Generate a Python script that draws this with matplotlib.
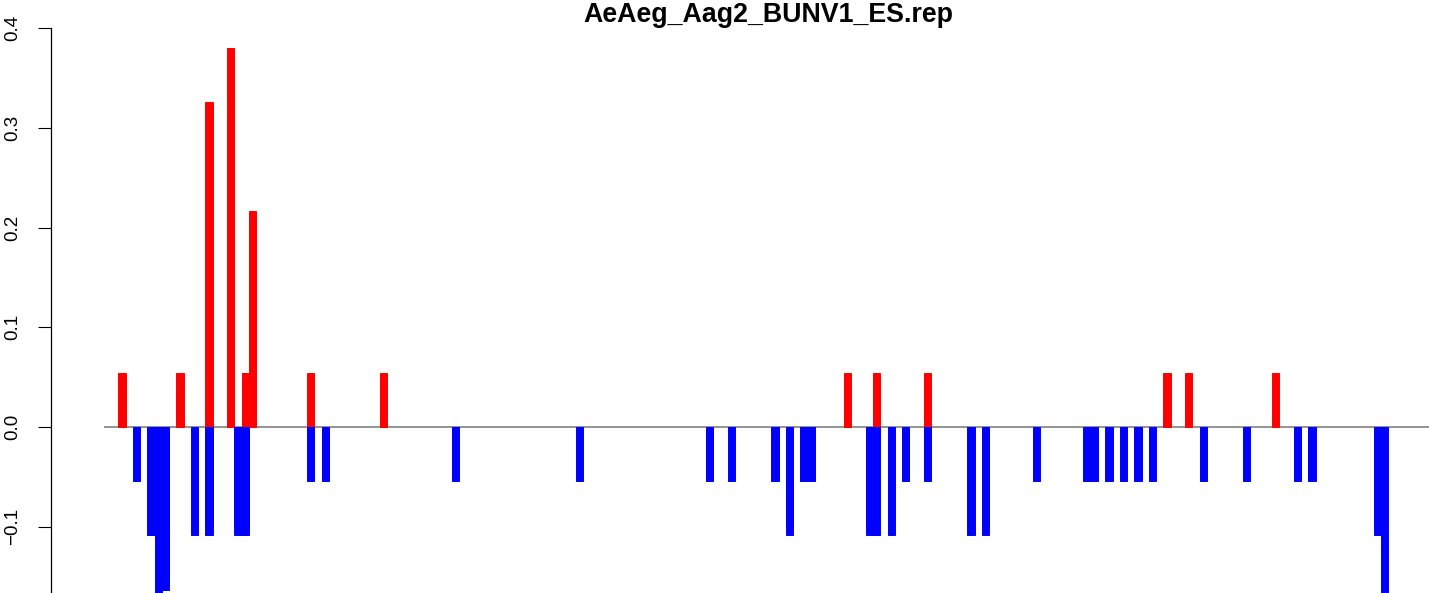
import matplotlib
matplotlib.use("Agg")
import matplotlib.pyplot as plt

plt.rcParams['font.family'] = ['Liberation Sans', 'DejaVu Sans']

# ---- data (bin index along the sequence, value) ----
title = "AeAeg_Aag2_BUNV1_ES.rep"
n_bins = 180

pos_idx = [2, 10, 14, 17, 19, 20, 28, 38, 102, 106, 113, 146, 149, 161]
pos_val = [0.0543, 0.0543, 0.326, 0.380, 0.0543, 0.217, 0.0543, 0.0543,
           0.0543, 0.0543, 0.0543, 0.0543, 0.0543, 0.0543]

neg_idx = [4, 6, 7, 8, 12, 14, 18, 19, 28, 30, 48, 65, 83, 86, 92, 94, 96, 97,
           105, 106, 108, 110, 113, 119, 121, 128, 135, 136, 138, 140, 142, 144,
           151, 157, 164, 166, 175, 176]
neg_val = [-0.0543, -0.1087, -0.217, -0.163, -0.1087, -0.1087, -0.1087, -0.1087,
           -0.0543, -0.0543, -0.0543, -0.0543, -0.0543, -0.0543, -0.0543, -0.1087,
           -0.0543, -0.0543, -0.1087, -0.1087, -0.1087, -0.0543, -0.0543, -0.1087,
           -0.1087, -0.0543, -0.0543, -0.0543, -0.0543, -0.0543, -0.0543, -0.0543,
           -0.0543, -0.0543, -0.0543, -0.0543, -0.1087, -0.217]

y_ticks = [-0.1, 0.0, 0.1, 0.2, 0.3, 0.4]
y_ticklabels = ["\u22120.1", "0.0", "0.1", "0.2", "0.3", "0.4"]

# ---- layout (pixels) ----
W, H = 1429, 593
fig = plt.figure(figsize=(W / 100, H / 100), dpi=100)
left_px, right_px, top_px, bottom_px = 50.7, 1429, 20, 593
ax = fig.add_axes([left_px / W, 1 - bottom_px / H,
                   (right_px - left_px) / W, (bottom_px - top_px) / H])

x0_px, bw_px = 103.8, 7.257
zero_px, ppu = 427, 997
ax.set_xlim((left_px - x0_px) / bw_px, (right_px - x0_px) / bw_px)
ax.set_ylim(-(bottom_px - zero_px) / ppu, (zero_px - top_px) / ppu)

ax.hlines(0, 0, (right_px - x0_px) / bw_px + 5, color="#808080", lw=1.2, zorder=1)

ax.bar(pos_idx, pos_val, width=1, align="edge", color="#FF0000",
       edgecolor="#FF0000", linewidth=0.7, zorder=2)
ax.bar(neg_idx, neg_val, width=1, align="edge", color="#0000FF",
       edgecolor="#0000FF", linewidth=0.7, zorder=2)

for s in ["top", "right", "bottom"]:
    ax.spines[s].set_visible(False)
ax.spines["left"].set_bounds(ax.get_ylim()[0], 0.4)
ax.spines["left"].set_linewidth(0.9)

ax.set_xticks([])
ax.set_yticks(y_ticks)
ax.set_yticklabels(y_ticklabels, rotation=90, va="center")
ax.tick_params(axis="y", length=9.4, width=0.8, pad=12, labelsize=13.5)

fig.text(768 / W, 1 - 22 / H, title, ha="center", va="baseline",
         fontsize=19.3, fontweight="bold")

fig.savefig("out.png", dpi=100)
